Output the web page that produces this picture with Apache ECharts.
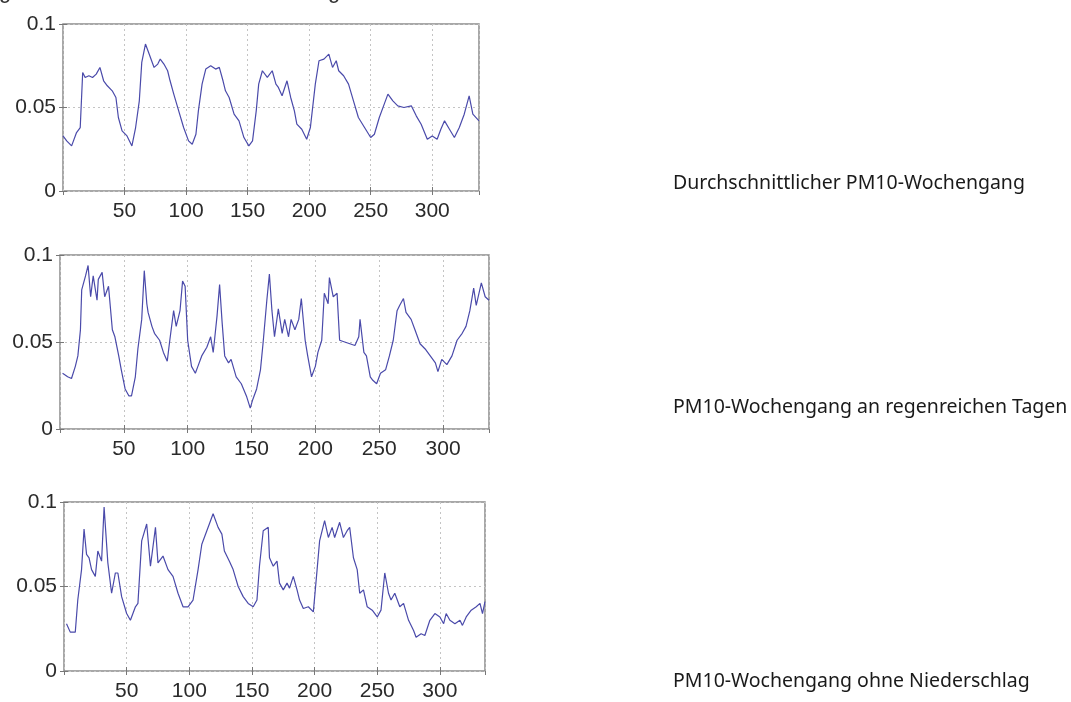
<!DOCTYPE html>
<html>
<head>
<meta charset="utf-8">
<script src="https://cdn.jsdelivr.net/npm/echarts@6/dist/echarts.min.js"></script>
<style>
  html, body { margin: 0; padding: 0; background: #fff; }
  #chart { width: 1071px; height: 702px; }
</style>
</head>
<body>
<div id="chart"></div>
<script>
    // Durchschnittlicher PM10-Wochengang (halbstuendlich, 336 Werte je Woche)
    var x1 = [0,3,7,11,14,16,18,21,24,27,30,33,36,40,43,45,48,52,56,59,62,64,67,70,74,77,79,82,85,87,90,94,98,102,105,108,110,113,116,120,124,127,130,132,135,139,143,147,151,154,157,159,162,166,170,173,175,178,182,185,188,190,194,198,201,205,208,212,216,219,222,224,228,232,236,240,245,250,253,257,261,264,268,272,277,283,287,291,296,300,304,307,310,314,318,322,326,330,333,338];
    var y1 = [0.033,0.030,0.027,0.035,0.038,0.071,0.068,0.069,0.068,0.070,0.074,0.066,0.063,0.060,0.056,0.044,0.036,0.033,0.027,0.038,0.054,0.077,0.088,0.082,0.074,0.076,0.079,0.076,0.072,0.066,0.058,0.048,0.038,0.030,0.028,0.034,0.048,0.064,0.073,0.075,0.073,0.074,0.066,0.060,0.056,0.046,0.042,0.032,0.027,0.030,0.048,0.064,0.072,0.068,0.072,0.064,0.062,0.057,0.066,0.056,0.048,0.040,0.037,0.031,0.038,0.064,0.078,0.079,0.082,0.074,0.078,0.072,0.069,0.064,0.054,0.044,0.038,0.032,0.034,0.044,0.052,0.058,0.054,0.051,0.050,0.051,0.045,0.040,0.031,0.033,0.031,0.037,0.042,0.037,0.032,0.038,0.046,0.057,0.046,0.042];

    // PM10-Wochengang an regenreichen Tagen
    var x2 = [2,6,9,12,14,16,17,20,22,24,26,29,30,33,35,38,41,43,46,48,51,54,56,59,61,64,66,68,69,72,74,78,81,84,86,89,91,94,96,98,100,103,106,108,111,115,118,120,123,125,127,129,132,134,138,142,146,149,151,154,157,159,162,164,166,168,171,174,176,179,181,184,187,189,192,194,197,200,202,205,207,210,211,214,217,219,223,227,231,234,235,238,240,243,245,248,251,255,258,261,264,266,269,271,275,278,282,286,290,294,296,299,303,307,311,315,318,321,324,326,330,333,336];
    var y2 = [0.032,0.030,0.029,0.036,0.042,0.057,0.080,0.088,0.094,0.076,0.088,0.074,0.086,0.090,0.076,0.082,0.057,0.053,0.042,0.034,0.023,0.019,0.019,0.030,0.046,0.063,0.091,0.072,0.067,0.059,0.055,0.051,0.044,0.039,0.051,0.068,0.059,0.068,0.085,0.082,0.051,0.036,0.032,0.036,0.042,0.047,0.053,0.044,0.065,0.083,0.061,0.042,0.038,0.040,0.030,0.026,0.019,0.012,0.017,0.023,0.034,0.049,0.074,0.089,0.068,0.053,0.069,0.055,0.063,0.053,0.063,0.057,0.063,0.075,0.051,0.042,0.030,0.036,0.044,0.051,0.078,0.072,0.087,0.076,0.078,0.051,0.050,0.049,0.048,0.053,0.063,0.044,0.042,0.030,0.028,0.026,0.032,0.034,0.042,0.051,0.068,0.071,0.075,0.067,0.063,0.057,0.049,0.046,0.042,0.038,0.033,0.040,0.037,0.042,0.051,0.055,0.059,0.068,0.081,0.071,0.084,0.076,0.074];

    // PM10-Wochengang ohne Niederschlag
    var x3 = [2,5,9,11,14,16,18,20,22,25,27,30,32,35,38,41,43,46,50,53,57,59,62,66,69,73,75,79,83,87,91,95,99,103,107,110,114,116,119,123,126,128,132,135,139,143,147,151,154,156,159,163,164,167,170,172,175,178,180,183,186,188,191,195,199,202,204,208,211,214,216,220,223,226,228,231,234,236,239,242,246,250,253,256,259,261,264,268,271,275,279,281,285,288,292,296,300,303,305,308,312,316,318,321,325,329,332,334,336];
    var y3 = [0.028,0.023,0.023,0.042,0.060,0.084,0.069,0.067,0.060,0.056,0.071,0.065,0.097,0.064,0.046,0.058,0.058,0.044,0.034,0.030,0.038,0.040,0.077,0.087,0.062,0.085,0.064,0.068,0.060,0.056,0.046,0.038,0.038,0.042,0.060,0.075,0.083,0.087,0.093,0.085,0.081,0.071,0.065,0.060,0.050,0.044,0.040,0.038,0.042,0.062,0.083,0.085,0.067,0.062,0.065,0.052,0.048,0.052,0.049,0.056,0.048,0.042,0.037,0.038,0.035,0.060,0.077,0.089,0.079,0.085,0.079,0.088,0.079,0.083,0.085,0.067,0.060,0.046,0.048,0.038,0.036,0.032,0.036,0.058,0.046,0.042,0.046,0.038,0.040,0.030,0.024,0.020,0.022,0.021,0.030,0.034,0.032,0.028,0.034,0.030,0.028,0.030,0.027,0.032,0.036,0.038,0.040,0.034,0.041];

    var xTicks = [50, 100, 150, 200, 250, 300];
    var yTicks = [0, 0.05, 0.1];
    var panelTitles = ['Durchschnittlicher PM10-Wochengang', 'PM10-Wochengang an regenreichen Tagen', 'PM10-Wochengang ohne Niederschlag'];

    function pairs(xs, ys) {
        var out = [];
        for (var i = 0; i < xs.length; i++) {
            out.push([xs[i], ys[i]]);
        }
        return out;
    }

    var panels = [
        {left: 63, top: 24, width: 416, height: 167, xmax: 338, data: pairs(x1, y1), titleY: 185},
        {left: 60, top: 255, width: 429, height: 174, xmax: 336, data: pairs(x2, y2), titleY: 409},
        {left: 64, top: 502, width: 421, height: 169, xmax: 336, data: pairs(x3, y3), titleY: 683}
    ];

    var labelFont = {fontFamily: 'Liberation Sans', fontSize: 21, color: '#2a2a2a'};
    var grids = [], xAxes = [], yAxes = [], series = [], graphics = [];

    panels.forEach(function (p, i) {
        grids.push({left: p.left, top: p.top, width: p.width, height: p.height,
            show: true, borderColor: '#8c8c8c', borderWidth: 1.5, backgroundColor: '#fff'});
        // bottom axis with labels
        xAxes.push({
            type: 'value', gridIndex: i, min: 0, max: p.xmax, interval: 50,
            axisLine: {show: false},
            axisTick: {show: true, inside: true, length: 4, lineStyle: {color: '#777'}},
            axisLabel: Object.assign({margin: 10, showMinLabel: false, showMaxLabel: false,
                formatter: function (v) { return xTicks.indexOf(v) >= 0 ? String(v) : ''; }}, labelFont),
            splitLine: {show: true, lineStyle: {color: '#c4c4c4', type: [2, 3], width: 1}}
        });
        // top axis, ticks only
        xAxes.push({
            type: 'value', gridIndex: i, position: 'top', min: 0, max: p.xmax, interval: 50,
            axisLine: {show: false},
            axisTick: {show: true, inside: true, length: 4, lineStyle: {color: '#777'}},
            axisLabel: {show: false}, splitLine: {show: false}
        });
        yAxes.push({
            type: 'value', gridIndex: i, min: 0, max: 0.1, interval: 0.05,
            axisLine: {show: false},
            axisTick: {show: true, inside: true, length: 4, lineStyle: {color: '#777'}},
            axisLabel: Object.assign({margin: 7, formatter: function (v) {
                return yTicks.indexOf(v) >= 0 ? String(v) : '';
            }}, labelFont),
            splitLine: {show: true, lineStyle: {color: '#c4c4c4', type: [2, 3], width: 1}}
        });
        yAxes.push({
            type: 'value', gridIndex: i, position: 'right', min: 0, max: 0.1, interval: 0.05,
            axisLine: {show: false},
            axisTick: {show: true, inside: true, length: 4, lineStyle: {color: '#777'}},
            axisLabel: {show: false}, splitLine: {show: false}
        });
        series.push({
            type: 'line', xAxisIndex: i * 2, yAxisIndex: i * 2, data: p.data,
            showSymbol: false, symbol: 'none', sampling: null, animation: false,
            lineStyle: {color: '#4a4aaa', width: 1.2}
        });
        graphics.push({
            type: 'text', left: 673, top: p.titleY - 12,
            style: {text: panelTitles[i], font: '19.5px "Noto Sans"', fill: '#1a1a1a'}
        });
    });

    // angeschnittene Zeile ganz oben (nur Unterlaengen sichtbar)
    graphics.push({type: 'text', left: -1, top: -19, style: {text: 'g', font: '22px "Liberation Sans"', fill: '#333'}});
    graphics.push({type: 'text', left: 328, top: -19, style: {text: 'g', font: '22px "Liberation Sans"', fill: '#333'}});

    var option = {
        animation: false,
        backgroundColor: '#fff',
        grid: grids,
        xAxis: xAxes,
        yAxis: yAxes,
        series: series,
        graphic: graphics
    };
    var myChart = echarts.init(document.getElementById('chart'));
    myChart.setOption(option);
</script>
</body>
</html>
